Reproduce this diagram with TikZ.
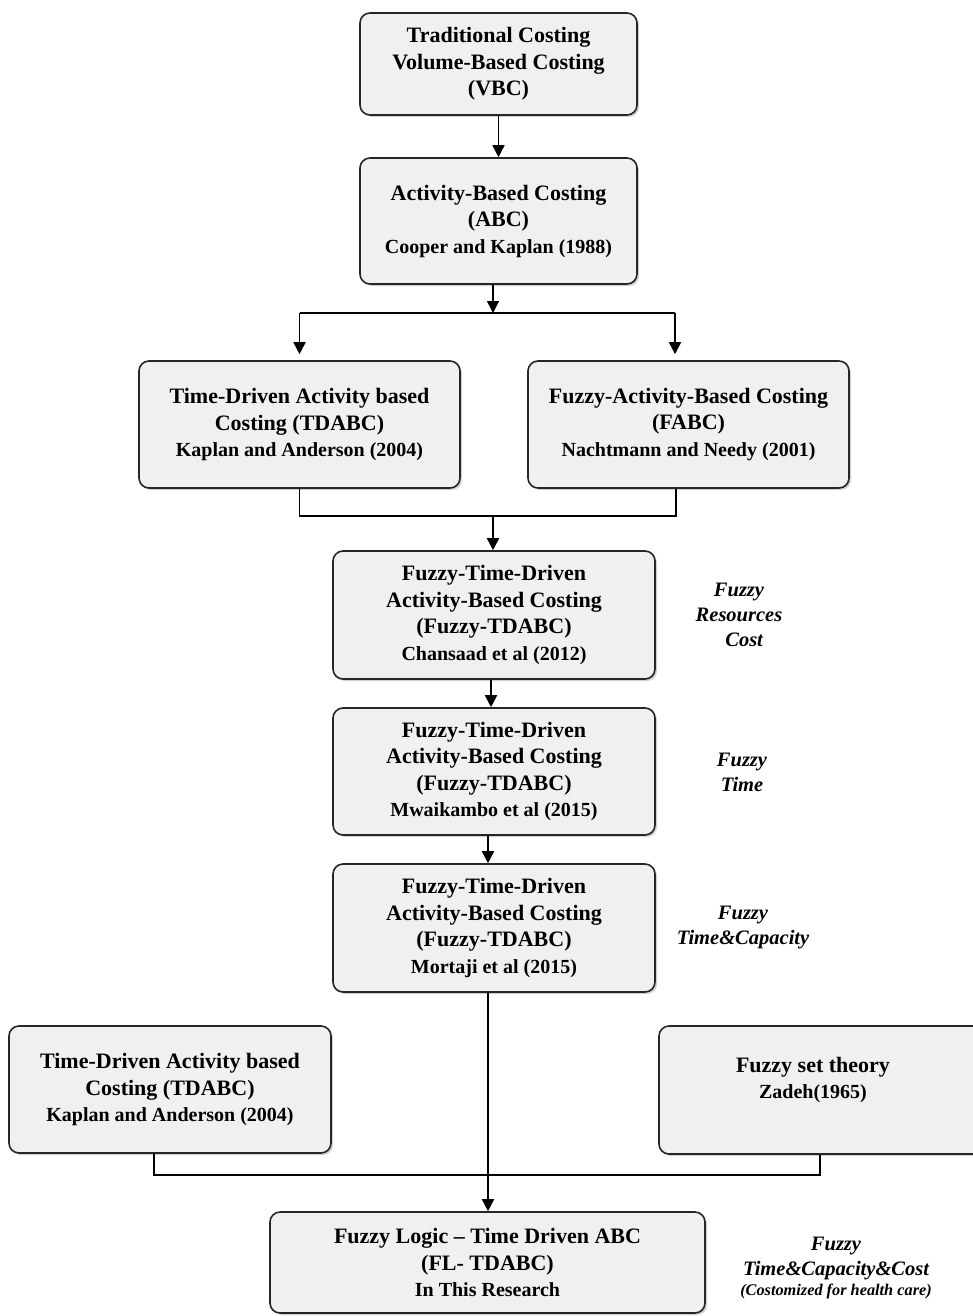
\documentclass[tikz,border=0pt]{standalone}
\usepackage{fontspec}
\setmainfont{Liberation Serif}
\usetikzlibrary{arrows.meta,shadows}
\begin{document}
\begin{tikzpicture}[x=1pt,y=-1pt,
  box/.style={draw=black!85, line width=1.6pt, rounded corners=10pt, fill=black!6,
    drop shadow={shadow xshift=2pt, shadow yshift=-2pt, opacity=0.18, fill=black},
    align=center, inner sep=0pt, font=\fontsize{22}{26.5}\selectfont\bfseries},
  lab/.style={align=center, font=\fontsize{20.5}{25}\selectfont\bfseries\itshape},
  conn/.style={line width=1.6pt, black},
  arr/.style={conn, -{Triangle[length=12pt,width=12pt]}}
]
\useasboundingbox (0,0) rectangle (972,1316);

% boxes
\node[box, minimum width=277pt, minimum height=102pt] (vbc) at (498.5,64)
  {Traditional Costing\\Volume-Based Costing\\(VBC)};
\node[box, minimum width=277pt, minimum height=126pt] (abc) at (498.5,221)
  {Activity-Based Costing\\(ABC)\\{\fontsize{20}{26.5}\selectfont Cooper and Kaplan (1988)}};
\node[box, minimum width=321pt, minimum height=127pt] (tda) at (299.5,424.5)
  {Time-Driven Activity based\\Costing (TDABC)\\{\fontsize{20}{26.5}\selectfont Kaplan and Anderson (2004)}};
\node[box, minimum width=321pt, minimum height=127pt] (fabc) at (688.5,424.5)
  {Fuzzy-Activity-Based Costing\\(FABC)\\{\fontsize{20}{26.5}\selectfont Nachtmann and Needy (2001)}};
\node[box, minimum width=322pt, minimum height=128pt] (fa) at (494,615)
  {Fuzzy-Time-Driven\\Activity-Based Costing\\(Fuzzy-TDABC)\\{\fontsize{20}{26.5}\selectfont Chansaad et al (2012)}};
\node[box, minimum width=322pt, minimum height=127pt] (fb) at (494,771.5)
  {Fuzzy-Time-Driven\\Activity-Based Costing\\(Fuzzy-TDABC)\\{\fontsize{20}{26.5}\selectfont Mwaikambo et al (2015)}};
\node[box, minimum width=322pt, minimum height=128pt] (fc) at (494,928)
  {Fuzzy-Time-Driven\\Activity-Based Costing\\(Fuzzy-TDABC)\\{\fontsize{20}{26.5}\selectfont Mortaji et al (2015)}};
\node[box, minimum width=322pt, minimum height=127pt] (tdb) at (170,1089.5)
  {Time-Driven Activity based\\Costing (TDABC)\\{\fontsize{20}{26.5}\selectfont Kaplan and Anderson (2004)}};
\node[box, minimum width=324pt, minimum height=128pt] (fst) at (821,1090) {};
\node[align=center, inner sep=0pt, font=\fontsize{22}{26.5}\selectfont\bfseries] (fstt) at (813,1080)
  {Fuzzy set theory\\{\fontsize{20}{26.5}\selectfont Zadeh(1965)}};
\node[box, minimum width=435pt, minimum height=101pt] (fl) at (487.5,1262.5)
  {Fuzzy Logic -- Time Driven ABC\\(FL- TDABC)\\{\fontsize{20}{26.5}\selectfont In This Research}};

% side labels
\node[lab] (l1) at (739,615) {Fuzzy\\Resources\\\ \ Cost};
\node[lab] (l2) at (742,772) {Fuzzy\\Time};
\node[lab] (l3) at (743,927) {Fuzzy\\Time\&Capacity};
\node[lab] (l4) at (836,1268) {Fuzzy\\Time\&Capacity\&Cost\\[-5pt]{\fontsize{16.3}{20}\selectfont(Costomized for health care)}};

% connector coordinates
\coordinate (s1) at (493,313);
\coordinate (sL) at (299.5,313);
\coordinate (sR) at (675,313);
\coordinate (j1) at (493,516);
\coordinate (jL) at (299.5,516);
\coordinate (jR) at (676,516);
\coordinate (j2) at (488,1175);
\coordinate (kL) at (154,1175);
\coordinate (kR) at (820,1175);

% connectors
\draw[arr] (vbc) -- (abc);
\draw[arr] (abc.south -| s1) -- (s1);
\draw[conn] (sL) -- (sR);
\draw[arr] (sL) -- ([yshift=6pt]sL |- tda.north);
\draw[arr] (sR) -- ([yshift=6pt]sR |- fabc.north);
\draw[conn] (jL |- tda.south) -- (jL) -- (jR) -- (jR |- fabc.south);
\draw[arr] (j1) -- (j1 |- fa.north);
\draw[arr] (fa.south -| 491,0) -- (fb.north -| 491,0);
\draw[arr] (fb.south -| 488,0) -- (fc.north -| 488,0);
\draw[conn] (kL |- tdb.south) -- (kL) -- (kR) -- (kR |- fst.south);
\draw[arr] (fc.south -| j2) -- (j2 |- fl.north);
\end{tikzpicture}
\end{document}
